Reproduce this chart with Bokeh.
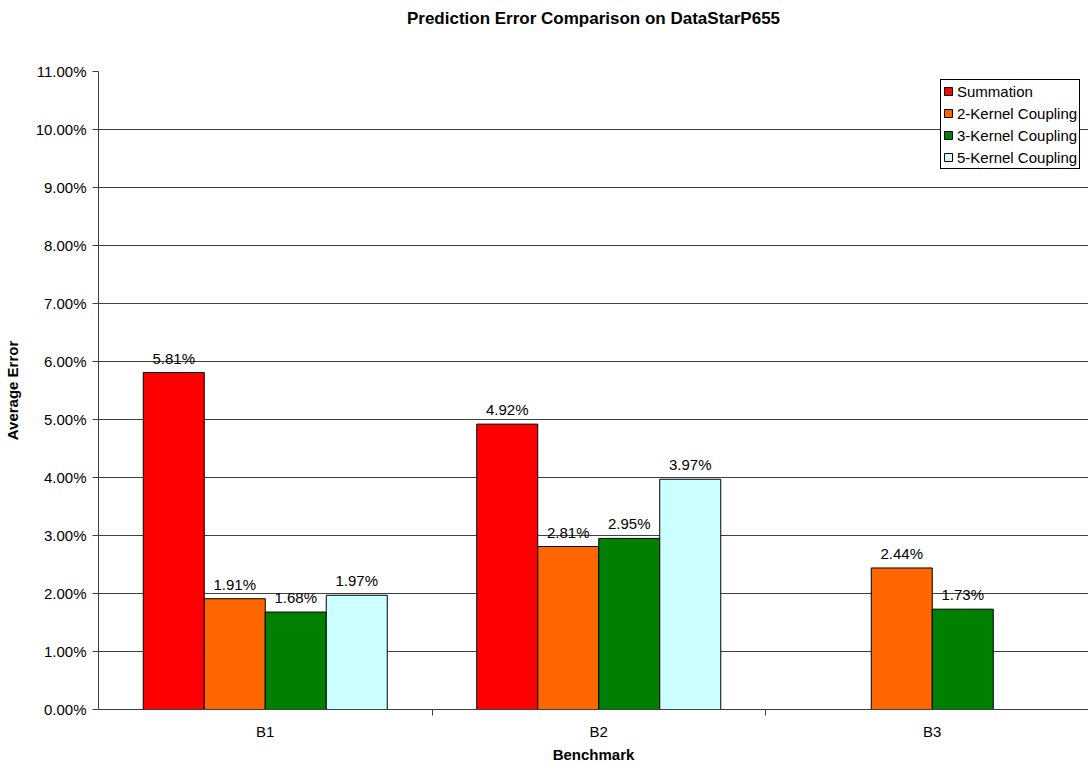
from bokeh.plotting import figure
from bokeh.models import FixedTicker, PrintfTickFormatter, ColumnDataSource, Legend, LegendItem, Title
from bokeh.core.properties import value
from bokeh.embed import file_html
from bokeh.resources import INLINE
import math

categories = ["B1", "B2", "B3"]
series = ["Summation", "2-Kernel Coupling", "3-Kernel Coupling", "5-Kernel Coupling"]
summation = [5.81, 4.92, float("nan")]
kernel2 = [1.91, 2.81, 2.44]
kernel3 = [1.68, 2.95, 1.73]
kernel5 = [1.97, 3.97, float("nan")]
y_ticks = [0, 1, 2, 3, 4, 5, 6, 7, 8, 9, 10, 11]

colors = ["#FF0000", "#FF6600", "#008000", "#CCFFFF"]
values = [summation, kernel2, kernel3, kernel5]

FONT = "Liberation Sans"
frame_w = 990
cat_px = 333.5
bar_w = 61 / cat_px

p = figure(width=1088, height=765, output_backend="svg", toolbar_location=None,
           x_range=(0, frame_w / cat_px), y_range=(0, 11),
           min_border_left=98, min_border_right=0, min_border_top=71, min_border_bottom=56,
           title="Prediction Error Comparison on DataStarP655")
p.outline_line_color = None
p.title.align = "center"
p.title.text_font = FONT
p.title.text_font_size = "17px"
p.title.text_font_style = "bold"
p.title.text_color = "#000000"
p.title.standoff = 0

# empty spacer between the title and the plot frame
p.add_layout(Title(text=" ", text_font_size="38px", standoff=0), "above")

items = []
for i, (name, vals, col) in enumerate(zip(series, values, colors)):
    off = (i - 1.5) * bar_w
    xs, ys, labels = [], [], []
    for j, v in enumerate(vals):
        if not math.isnan(v):
            xs.append(j + 0.5 + off)
            ys.append(v)
            labels.append("%.2f%%" % v)
    src = ColumnDataSource(dict(x=xs, top=ys, label=labels))
    r = p.vbar(x="x", top="top", width=bar_w, bottom=0, source=src,
               fill_color=col, line_color="#000000", line_width=1)
    p.text(x="x", y="top", text="label", source=src, text_align="center",
           text_baseline="bottom", y_offset=-6, text_font=value(FONT),
           text_font_size="15px", text_color="#000000")
    items.append(LegendItem(label=name, renderers=[r]))

legend = Legend(items=items, location=(842, 540))
legend.label_text_font = FONT
legend.label_text_font_size = "15px"
legend.label_text_color = "#000000"
legend.glyph_width = 10
legend.glyph_height = 10
legend.label_height = 18
legend.spacing = 4
legend.padding = 2
legend.margin = 0
legend.label_standoff = 4
legend.border_line_color = "#000000"
legend.border_line_width = 1
legend.border_line_alpha = 1
legend.background_fill_alpha = 1
p.add_layout(legend)

# y axis
p.yaxis.ticker = FixedTicker(ticks=y_ticks)
p.yaxis.formatter = PrintfTickFormatter(format="%.2f%%")
p.yaxis.axis_label = "Average Error"
p.yaxis.axis_label_text_font = FONT
p.yaxis.axis_label_text_font_style = "bold"
p.yaxis.axis_label_text_font_size = "15px"
p.yaxis.axis_label_text_color = "#000000"
p.yaxis.axis_label_standoff = 12
p.yaxis.major_label_text_font = FONT
p.yaxis.major_label_text_font_size = "15px"
p.yaxis.major_label_text_color = "#000000"
p.yaxis.major_label_standoff = 6
p.yaxis.major_tick_in = 0
p.yaxis.major_tick_out = 6
p.yaxis.minor_tick_line_color = None
p.yaxis.axis_line_color = "#404040"
p.yaxis.major_tick_line_color = "#404040"

# x axis
p.xaxis.ticker = FixedTicker(ticks=[0.5, 1.5, 2.5], minor_ticks=[1, 2])
p.xaxis.major_label_overrides = {0.5: categories[0], 1.5: categories[1], 2.5: categories[2]}
p.xaxis.axis_label = "Benchmark"
p.xaxis.axis_label_text_font = FONT
p.xaxis.axis_label_text_font_style = "bold"
p.xaxis.axis_label_text_font_size = "15px"
p.xaxis.axis_label_text_color = "#000000"
p.xaxis.axis_label_standoff = 3
p.xaxis.major_label_text_font = FONT
p.xaxis.major_label_text_font_size = "15px"
p.xaxis.major_label_text_color = "#000000"
p.xaxis.major_label_standoff = 7
p.xaxis.major_tick_line_color = None
p.xaxis.minor_tick_in = 0
p.xaxis.minor_tick_out = 6
p.xaxis.minor_tick_line_color = "#404040"
p.xaxis.axis_line_color = "#404040"

p.xgrid.grid_line_color = None
p.ygrid.ticker = FixedTicker(ticks=y_ticks)
p.ygrid.grid_line_color = "#404040"
p.ygrid.grid_line_width = 1

open("out.html", "w").write(file_html(p, INLINE))
